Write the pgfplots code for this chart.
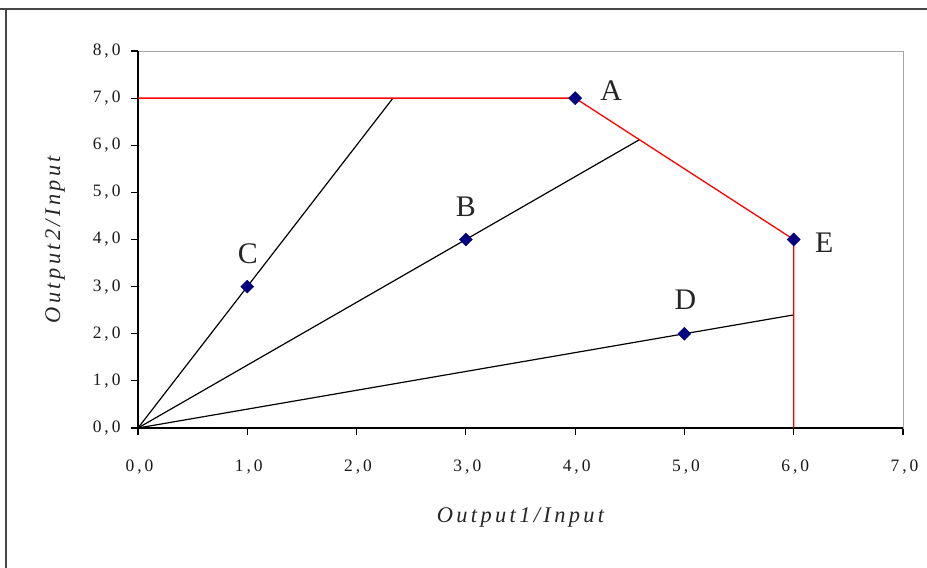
\documentclass[border=0pt]{standalone}
\usepackage{fontspec}
\setmainfont{Liberation Serif}
\newfontfamily\tickfont{Liberation Serif}[LetterSpace=17]
\newfontfamily\labelfont{Liberation Serif}[LetterSpace=15]
\usepackage{pgfplots}
\pgfplotsset{compat=1.18}
\definecolor{ptnavy}{RGB}{0,0,128}
\definecolor{framegray}{RGB}{70,70,70}

\begin{document}
\begin{tikzpicture}
% page extent and the outer chart frame (top and left edges)
\path[use as bounding box] (-138bp,-140bp) rectangle (789bp,428bp);
\draw[framegray, line width=2bp] (-138bp,418.5bp) -- (789bp,418.5bp);
\draw[framegray, line width=2bp] (-131.5bp,418.5bp) -- (-131.5bp,-140bp);

\begin{axis}[
  at={(0,0)}, anchor=south west,
  scale only axis,
  width=765bp, height=377bp,
  xmin=0, xmax=7, ymin=0, ymax=8,
  xtick={0,1,...,7}, ytick={0,1,...,8},
  tick align=outside, tick pos=left,
  major tick length=7bp,
  every tick/.style={black, line width=1.2bp},
  axis line style={gray!70, line width=1bp},
  /pgf/number format/.cd, fixed, fixed zerofill, precision=1, use comma, assume math mode=true,
  /pgfplots/.cd,
  tick label style={font=\tickfont\fontsize{17.5}{19}\selectfont, text=black!90},
  xticklabel style={anchor=center, xshift=1.5bp, yshift=-32bp},
  yticklabel style={anchor=east, xshift=-7bp},
  xlabel={\labelfont\itshape Output1/Input},
  ylabel={\labelfont\itshape Output2/Input},
  label style={font=\fontsize{22.5}{25}\selectfont, text=black!85},
  xlabel style={at={(axis description cs:0.5,0)}, anchor=center, yshift=-89bp},
  ylabel style={at={(axis description cs:0,0.5)}, anchor=center, yshift=83bp},
  clip=false,
]
% left and bottom axis lines in black
\draw[black, line width=1.5bp] (rel axis cs:0,1) -- (rel axis cs:0,0) -- (rel axis cs:1,0);

% rays from the origin through C, B and D up to the frontier
\addplot[black, line width=1.2bp, mark=none] coordinates {(0,0) (2.333,7)};
\addplot[black, line width=1.2bp, mark=none] coordinates {(0,0) (4.588,6.118)};
\addplot[black, line width=1.2bp, mark=none] coordinates {(0,0) (6,2.4)};

% efficient frontier
\addplot[red, line width=1.3bp, mark=none] coordinates {(0,7) (4,7) (6,4) (6,0)};

% units
\addplot[only marks, mark=square*, mark size=4.6bp, mark options={rotate=45, fill=ptnavy, draw=ptnavy}]
  coordinates {(4,7) (3,4) (1,3) (5,2) (6,4)};

\begin{scope}[font=\fontsize{30}{32}\selectfont, text=black!85]
\node at (axis cs:4.33,7.15) {A};
\node at (axis cs:3.0,4.69) {B};
\node at (axis cs:1.006,3.69) {C};
\node at (axis cs:5.01,2.72) {D};
\node at (axis cs:6.28,3.93) {E};
\end{scope}
\end{axis}
\end{tikzpicture}
\end{document}
